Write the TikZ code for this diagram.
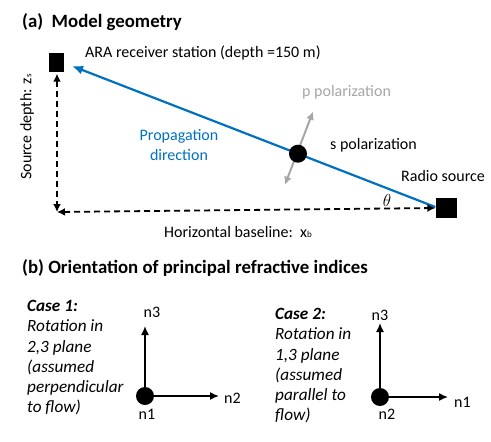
\documentclass[tikz,border=0pt]{standalone}
\usepackage{fontspec}
\setmainfont{Carlito}
\usetikzlibrary{arrows.meta,calc}
\definecolor{propblue}{RGB}{0,112,192}
\definecolor{polgray}{RGB}{166,166,166}
\tikzset{
  lbl/.style={inner sep=0pt, font=\fontsize{16}{20}\selectfont},
  title/.style={inner sep=0pt, anchor=west, font=\fontsize{18.8}{22}\selectfont\bfseries},
  station/.style={fill=black, minimum width=15pt, minimum height=19pt, inner sep=0pt},
  srcbox/.style={fill=black, minimum width=21pt, minimum height=20pt, inner sep=0pt},
  blob/.style={circle, fill=black, minimum size=18pt, inner sep=0pt},
  dasharrow/.style={dash pattern=on 6pt off 4pt, line width=1.8pt, {Latex[length=8pt,width=8pt]}-{Latex[length=8pt,width=8pt]}},
  axarrow/.style={line width=1.5pt, -{Latex[length=9pt,width=8pt]}},
  casetext/.style={inner sep=0pt, anchor=north west, align=left, font=\fontsize{17.2}{20.3}\selectfont\itshape},
}
\begin{document}
\begin{tikzpicture}[x=1pt,y=-1pt]
\useasboundingbox (0,0) rectangle (491,442);
% (a)
\node[title] (ta) at (22,22) {(a)\ \ Model geometry};
\node[station] (rec) at (56,62) {};
\node[srcbox] (src) at (446,208) {};
\node[lbl, anchor=west] (reclbl) at (85,53) {ARA receiver station (depth =150 m)};
\node[lbl, anchor=west] (srclbl) at (401,176) {Radio source};
\coordinate (corner) at (57,212);
\coordinate (tip) at (72,66);
\draw[propblue, line width=2.2pt, -{Latex[length=11pt,width=9pt]}] (src.west |- 0,207) -- (tip);
\coordinate (dotc) at ($(src.west |- 0,207)!0.378!(tip)$);
\coordinate (pa) at ($(dotc)+(-13,31)$);
\coordinate (pb) at ($(dotc)+(15,-42)$);
\draw[polgray, line width=2pt, {Latex[length=8pt,width=8pt]}-{Latex[length=8pt,width=8pt]}] (pa) -- (pb);
\node[blob] (dot) at (dotc) {};
\node[lbl, text=polgray, anchor=west] (plbl) at (302,92) {p polarization};
\node[lbl, anchor=west] (slbl) at (330,145) {s polarization};
\node[lbl, text=propblue, align=center] (prop) at (179,145) {Propagation\\direction};
\node[inner sep=0pt, font=\fontsize{18}{20}\selectfont] (theta) at (387,200) {$\theta$};
\draw[dasharrow] (rec.south -| corner) ++(0,2) coordinate (vtop) (vtop) -- (corner);
\draw[dasharrow] (corner) -- (src.west);
\node[lbl, rotate=90] (zs) at (27,127) {Source depth: z{\small s}};
\node[lbl] (xb) at (238,232) {Horizontal baseline:\ \ x{\small b}};
% (b)
\node[title] (tb) at (22,268) {(b) Orientation of principal refractive indices};
\node[casetext] (c1) at (27,300) {{\bfseries Case 1:}\\Rotation in\\2,3 plane\\(assumed\\perpendicular\\to flow)};
\node[blob] (d1) at (145,396) {};
\draw[axarrow] (d1.center) -- (145,326) coordinate (a1);
\draw[axarrow] (d1.center) -- (219,396) coordinate (b1);
\node[lbl] (n31) at (152,312) {n3};
\node[lbl, anchor=west] (n21) at (224,398) {n2};
\node[lbl] (n11) at (147,414) {n1};
\node[casetext] (c2) at (275,308) {{\bfseries Case 2:}\\Rotation in\\1,3 plane\\(assumed\\parallel to\\flow)};
\node[blob] (d2) at (380,397) {};
\draw[axarrow] (d2.center) -- (380,323) coordinate (a2);
\draw[axarrow] (d2.center) -- (448,397) coordinate (b2);
\node[lbl] (n32) at (380,315) {n3};
\node[lbl, anchor=west] (n12) at (454,402) {n1};
\node[lbl] (n22) at (387,414) {n2};
\end{tikzpicture}
\end{document}
